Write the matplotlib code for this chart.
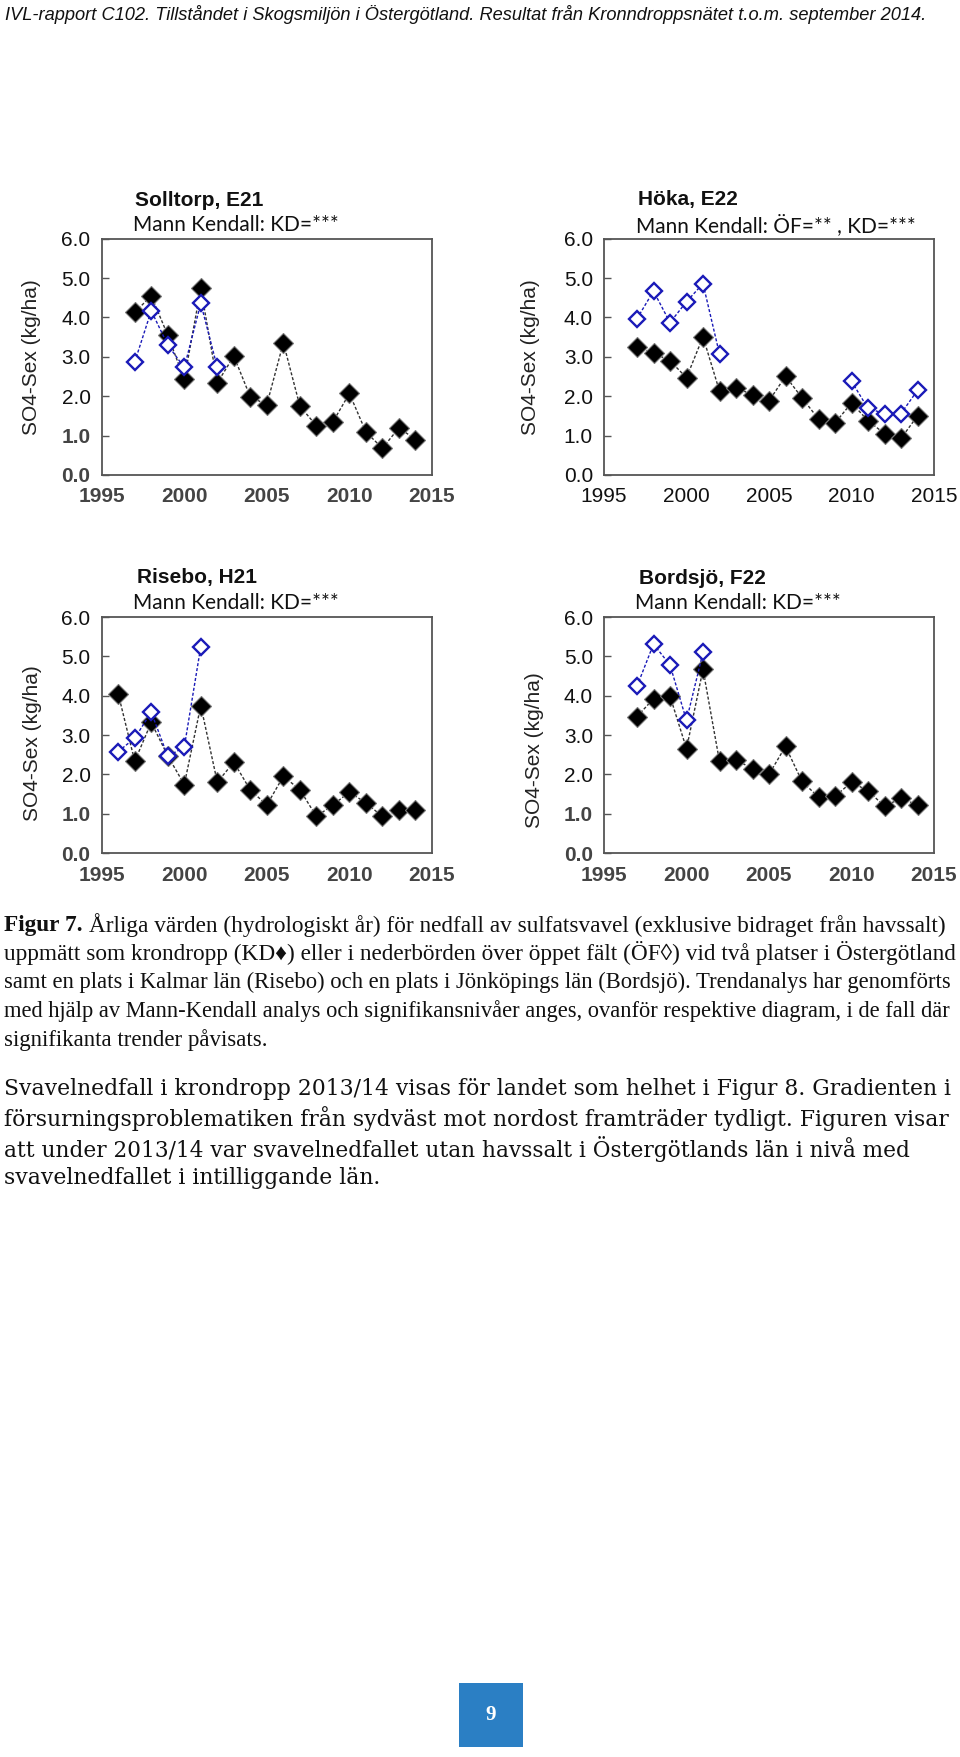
import numpy as np
import matplotlib
matplotlib.use('Agg')
import matplotlib.pyplot as plt
from matplotlib.patches import Rectangle

W, H = 960, 1757
nan = np.nan

# ---------------- data ----------------
solltorp_years = list(range(1997, 2015))
solltorp_kd = [4.13, 4.55, 3.55, 2.43, 4.74, 2.34, 3.02, 1.98, 1.79, 3.36,
               1.75, 1.25, 1.35, 2.07, 1.09, 0.68, 1.20, 0.90]
solltorp_of_years = list(range(1997, 2003))
solltorp_of = [2.87, 4.17, 3.30, 2.73, 4.36, 2.73]

hoka_years = list(range(1997, 2015))
hoka_kd = [3.24, 3.10, 2.90, 2.47, 3.51, 2.13, 2.21, 2.04, 1.88, 2.51,
           1.96, 1.42, 1.32, 1.83, 1.38, 1.05, 0.93, 1.50]
hoka_of_years = list(range(1997, 2015))
hoka_of = [3.97, 4.67, 3.87, 4.40, 4.86, 3.07, nan, nan, nan, nan,
           nan, nan, nan, 2.38, 1.69, 1.56, 1.56, 2.15]

risebo_years = list(range(1996, 2015))
risebo_kd = [4.05, 2.33, 3.32, 2.47, 1.74, 3.75, 1.80, 2.31, 1.60, 1.22,
             1.95, 1.61, 0.93, 1.22, 1.55, 1.27, 0.93, 1.10, 1.10]
risebo_of_years = list(range(1996, 2002))
risebo_of = [2.58, 2.92, 3.58, 2.46, 2.69, 5.25]

bordsjo_years = list(range(1997, 2015))
bordsjo_kd = [3.47, 3.92, 3.99, 2.65, 4.67, 2.33, 2.37, 2.14, 2.00, 2.71,
              1.82, 1.42, 1.44, 1.80, 1.58, 1.19, 1.39, 1.22]
bordsjo_of_years = list(range(1997, 2002))
bordsjo_of = [4.24, 5.31, 4.78, 3.37, 5.10]

x_ticks = [1995, 2000, 2005, 2010, 2015]
y_ticks = [0, 1, 2, 3, 4, 5, 6]
y_label = 'SO4-Sex (kg/ha)'

header = ('IVL-rapport C102. Tillståndet i Skogsmiljön i Östergötland. '
          'Resultat från Kronndroppsnätet t.o.m. september 2014.')
caption_label = 'Figur 7.'
caption_lines = [
    'Årliga värden (hydrologiskt år) för nedfall av sulfatsvavel (exklusive bidraget från havssalt)',
    'uppmätt som krondropp (KD\u2666) eller i nederbörden över öppet fält (ÖF\u25CA) vid två platser i Östergötland',
    'samt en plats i Kalmar län (Risebo) och en plats i Jönköpings län (Bordsjö). Trendanalys har genomförts',
    'med hjälp av Mann-Kendall analys och signifikansnivåer anges, ovanför respektive diagram, i de fall där',
    'signifikanta trender påvisats.',
]
body_lines = [
    'Svavelnedfall i krondropp 2013/14 visas för landet som helhet i Figur 8. Gradienten i',
    'försurningsproblematiken från sydväst mot nordost framträder tydligt. Figuren visar',
    'att under 2013/14 var svavelnedfallet utan havssalt i Östergötlands län i nivå med',
    'svavelnedfallet i intilliggande län.',
]

# ---------------- figure ----------------
fig = plt.figure(figsize=(W / 100, H / 100), dpi=100)
fig.patch.set_facecolor('white')
renderer = fig.canvas.get_renderer()

SANS = ['Liberation Sans', 'DejaVu Sans']
BLUE = '#1a1ab8'

panels = [
    dict(title='Solltorp, E21', sub='Mann Kendall: KD=***',
         rect=(101.7, 432, 238.7, 475), tpos=(135, 200), spos=(133, 225), lpos=(32, 357),
         kd=(solltorp_years, solltorp_kd), of=(solltorp_of_years, solltorp_of), blur=True),
    dict(title='Höka, E22', sub='Mann Kendall: ÖF=** , KD=***',
         rect=(604, 934, 238.7, 475), tpos=(638, 200), spos=(636, 225), lpos=(530, 357),
         kd=(hoka_years, hoka_kd), of=(hoka_of_years, hoka_of), blur=False),
    dict(title='Risebo, H21', sub='Mann Kendall: KD=***',
         rect=(101.7, 432, 617, 853), tpos=(137, 578), spos=(133, 603), lpos=(33, 743),
         kd=(risebo_years, risebo_kd), of=(risebo_of_years, risebo_of), blur=True),
    dict(title='Bordsjö, F22', sub='Mann Kendall: KD=***',
         rect=(604, 934, 617, 853), tpos=(639, 578), spos=(635, 603), lpos=(535, 750),
         kd=(bordsjo_years, bordsjo_kd), of=(bordsjo_of_years, bordsjo_of), blur=True),
]

for p in panels:
    x0, x1, yt, yb = p['rect']
    ax = fig.add_axes([x0 / W, 1 - yb / H, (x1 - x0) / W, (yb - yt) / H])
    ax.set_xlim(1995, 2015)
    ax.set_ylim(0, 6)
    ax.set_xticks(x_ticks)
    ax.set_yticks(y_ticks)
    ax.set_yticklabels(['%.1f' % v for v in y_ticks])
    for s in ax.spines.values():
        s.set_color('#555555')
        s.set_linewidth(1.3)
    ax.tick_params(axis='y', direction='in', length=5, width=1, color='#555555',
                   pad=8, labelsize=15)
    ax.tick_params(axis='x', length=0, pad=9, labelsize=15)
    for lab in ax.get_xticklabels() + ax.get_yticklabels():
        lab.set_family(SANS)
        lab.set_color('#111111')
    if p['blur']:
        for lab in ax.get_xticklabels():
            lab.set_fontweight('bold')
            lab.set_color('#444444')
        for lab in ax.get_yticklabels()[:2]:
            lab.set_fontweight('bold')
            lab.set_color('#444444')

    kx, ky = p['kd']
    ax.plot(kx, ky, linestyle=(0, (2.2, 1.4)), color='#333333', linewidth=1.0,
            marker='D', markersize=10, markerfacecolor='black',
            markeredgecolor='#777777', markeredgewidth=0.8, zorder=3)
    ox, oy = p['of']
    ax.plot(ox, oy, linestyle=(0, (2.2, 1.4)), color=BLUE, linewidth=1.0,
            marker='D', markersize=8.5, markerfacecolor='white',
            markeredgecolor=BLUE, markeredgewidth=1.7, zorder=4)

    fig.text(p['tpos'][0] / W, 1 - p['tpos'][1] / H, p['title'], family=SANS,
             fontweight='bold', fontsize=15, ha='left', va='center', color='#111111')
    fig.text(p['spos'][0] / W, 1 - p['spos'][1] / H, p['sub'], family=['Lato', 'DejaVu Sans'],
             fontsize=15, ha='left', va='center', color='#111111')
    fig.text(p['lpos'][0] / W, 1 - p['lpos'][1] / H, y_label, family=SANS,
             fontsize=15, rotation=90, ha='center', va='center', color='#222222')


# ---------------- text helpers ----------------
def width(t):
    return t.get_window_extent(renderer).width


def fit_text(x, y, s, target=None, size=14, **kw):
    t = fig.text(x / W, 1 - y / H, s, fontsize=size, ha='left', va='center', **kw)
    if target is not None:
        for _ in range(3):
            size = size * target / width(t)
            t.set_fontsize(size)
    return t, size


# header
hdr_fam = ['Liberation Sans Narrow', 'Liberation Sans', 'DejaVu Sans']
fit_text(5, 14, header, target=925, size=15, family=hdr_fam, style='italic', color='#111111')

# caption
SERIF = ['Liberation Serif', 'DejaVu Serif', 'DejaVu Sans']
cap_y = [925, 953, 982, 1011, 1040]
cap_right = [944, 950, 955, 950, None]
sizes = []

# first line with bold label
lbl = fig.text(4 / W, 1 - cap_y[0] / H, caption_label, family=SERIF, fontweight='bold',
               fontsize=14.5, ha='left', va='center', color='#111111')
first = fig.text(0, 1 - cap_y[0] / H, caption_lines[0], family=SERIF, fontsize=14.5,
                 ha='left', va='center', color='#111111')
sz = 14.5
for _ in range(4):
    lbl.set_fontsize(sz)
    first.set_fontsize(sz)
    lw = width(lbl)
    gap = 0.3 * sz * 100 / 72
    x_start = 4 + lw + gap
    first.set_x(x_start / W)
    sz = sz * (cap_right[0] - x_start) / width(first)
sizes.append(sz)

for line, y, r in zip(caption_lines[1:], cap_y[1:], cap_right[1:]):
    if r is not None:
        _, s2 = fit_text(4, y, line, target=r - 4, size=14.5, family=SERIF, color='#111111')
        sizes.append(s2)
    else:
        fit_text(4, y, line, size=float(np.median(sizes)), family=SERIF, color='#111111')

# body
BODY = ['DejaVu Serif', 'DejaVu Sans']
body_y = [1089, 1119, 1149, 1178]
body_right = [946, 950, 911, None]
bsizes = []
for line, y, r in zip(body_lines, body_y, body_right):
    if r is not None:
        _, s3 = fit_text(4, y, line, target=r - 4, size=15, family=BODY, color='#111111')
        bsizes.append(s3)
    else:
        fit_text(4, y, line, size=float(np.median(bsizes)), family=BODY, color='#111111')

# page number box
fig.patches.append(Rectangle((459 / W, 1 - 1747 / H), 64 / W, 64 / H,
                             transform=fig.transFigure, facecolor='#2b7fc4',
                             edgecolor='none'))
fig.text(491 / W, 1 - 1715 / H, '9', family=SERIF, fontweight='bold', fontsize=15,
         color='white', ha='center', va='center')

fig.savefig('out.png', dpi=100, facecolor='white')
